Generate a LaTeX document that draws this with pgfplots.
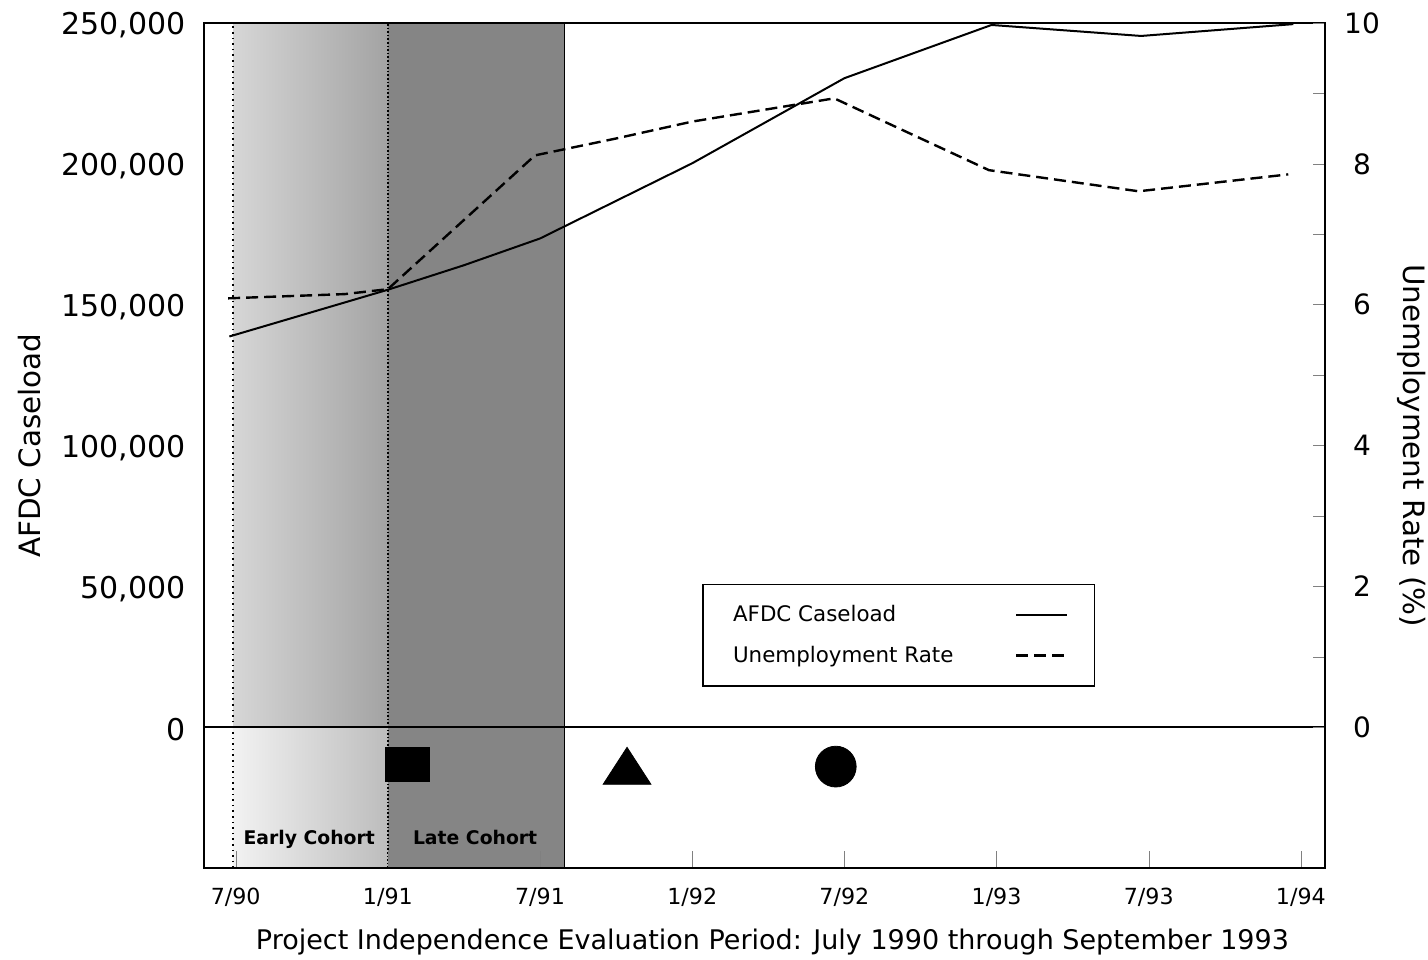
\documentclass[border=0pt]{standalone}
\usepackage{pgfplots}
\pgfplotsset{compat=1.18}
\usepackage{fontspec}
\setmainfont{DejaVu Sans}
\begin{document}
\begin{tikzpicture}
\pgfplotsset{
  base/.style={scale only axis, width=560.5pt, height=422.5pt,
    xmin=-1.25, xmax=42.95, at={(0pt,0pt)}, anchor=south west},
}
\begin{axis}[base, ymin=-50000, ymax=250000, axis on top,
  xtick={0,6,...,42}, xticklabels={7/90,1/91,7/91,1/92,7/92,1/93,7/93,1/94},
  xtick pos=lower, tick align=inside, major tick length=8.5pt,
  xticklabel style={font=\fontsize{11.1}{13}\selectfont, anchor=north, inner sep=0pt},
  xticklabel shift=10pt,
  ytick={0,50000,100000,150000,200000,250000},
  yticklabels={0,{50,000},{100,000},{150,000},{200,000},{250,000}},
  scaled y ticks=false,
  ytick pos=left, ytick style={draw=none},
  yticklabel style={font=\fontsize{15}{18}\selectfont, anchor=east, inner sep=0pt, yshift=-1.2pt},
  yticklabel shift=9pt,
  axis line style={line width=1pt},
  xlabel={Project Independence Evaluation Period: July 1990 through September 1993},
  xlabel style={font=\fontsize{13.5}{16}\selectfont, at={(axis description cs:0.5071,-0.0970)}, anchor=base, inner sep=0pt},
  ylabel={AFDC Caseload},
  ylabel style={font=\fontsize{14.7}{17}\selectfont, at={(axis description cs:-0.1552,0.5)}, anchor=center, inner sep=0pt},
]
% shaded cohort periods
\fill[left color=black!16, right color=black!36] (axis cs:-0.1,0) rectangle (axis cs:6,250000);
\fill[left color=black!5, right color=black!26] (axis cs:-0.1,-50000) rectangle (axis cs:6,0);
\fill[black!48] (axis cs:6,-50000) rectangle (axis cs:12.95,250000);
\draw[densely dotted, line width=0.8pt] (axis cs:6,-50000) -- (axis cs:6,250000);
\draw[dotted, line width=0.8pt] (axis cs:-0.1,-50000) -- (axis cs:-0.1,250000);
\draw[line width=0.6pt] (axis cs:12.95,-50000) -- (axis cs:12.95,250000);
\draw[line width=0.8pt] (axis cs:-1.25,0) -- (axis cs:42.95,0);
% AFDC caseload
\addplot[black, line width=1pt] coordinates {
 (-0.25,138700) (6,155300) (9,164000) (12,173500) (18,200200) (24,230400)
 (29.8,249300) (35.7,245400) (41.7,249600)};
% milestone markers
\addplot[only marks, mark=square*, mark size=8.5pt, mark options={xscale=1.29, fill=black}] coordinates {(6.76,-13300)};
\addplot[only marks, mark=triangle*, mark size=12.3pt, mark options={xscale=1.12, fill=black}] coordinates {(15.43,-15900)};
\addplot[only marks, mark=*, mark size=10.2pt, mark options={fill=black}] coordinates {(23.66,-14000)};
\node[font=\fontsize{9.4}{11}\selectfont\bfseries, anchor=base] at (axis cs:2.9,-41600) {Early Cohort};
\node[font=\fontsize{9.4}{11}\selectfont\bfseries, anchor=base] at (axis cs:9.44,-41600) {Late Cohort};
\end{axis}
\begin{axis}[base, ymin=-2, ymax=10, axis x line=none, axis y line*=right,
  ytick={0,2,4,6,8,10}, yticklabels={0,2,4,6,8,10}, minor ytick={1,3,5,7,9}, tick align=inside,
  scaled y ticks=false,
  major tick length=6pt, minor tick length=6pt,
  axis line style={line width=1pt},
  yticklabel style={font=\fontsize{14}{17}\selectfont, anchor=center, inner sep=0pt},
  yticklabel shift=18.5pt,
  ylabel={Unemployment Rate (\%)},
  ylabel style={font=\fontsize{14.7}{17}\selectfont, at={(axis description cs:1.0776,0.5)}, anchor=center, rotate=180, inner sep=0pt},
  legend image code/.code={\draw[#1] (0cm,0cm) -- (0.9cm,0cm);},
  legend style={at={(axis cs:18.4,2.034)}, anchor=north west, draw=black, line width=0.7pt,
    font=\fontsize{10.7}{13}\selectfont, inner xsep=13pt, inner ysep=8.5pt, row sep=6.5pt,
    legend plot pos=right, legend cell align=left},
]
\addlegendimage{black, line width=1pt}
\addlegendentry{\makebox[139pt][l]{AFDC Caseload}}
\addplot[black, line width=1.2pt, dash pattern=on 6pt off 3pt] coordinates {
 (-0.3,6.09) (4.3,6.15) (6,6.22) (11.8,8.12) (15,8.36) (18,8.6) (23.6,8.93)
 (29.7,7.91) (35.6,7.61) (41.5,7.85)};
\addlegendentry{\makebox[139pt][l]{Unemployment Rate}}
\end{axis}
\pgfresetboundingbox
\path[use as bounding box] (-102pt,-45.5pt) rectangle (612pt,434pt);
\end{tikzpicture}
\end{document}
